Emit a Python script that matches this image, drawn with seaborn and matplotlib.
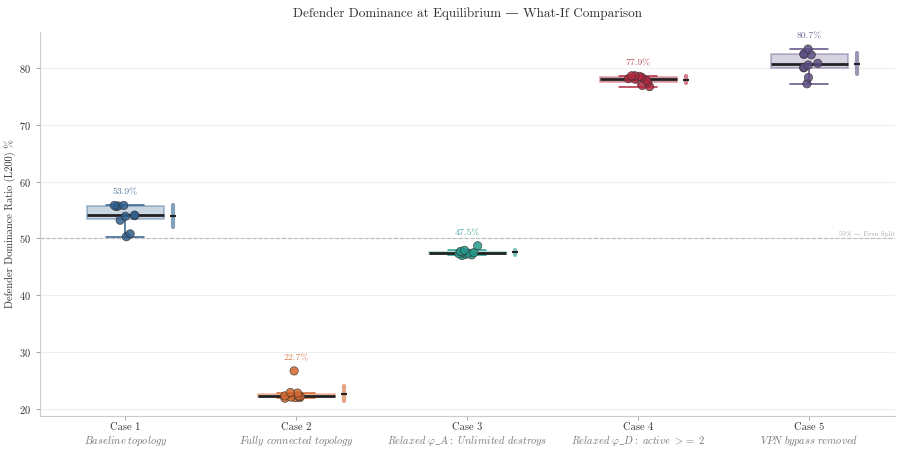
import numpy as np
import pandas as pd
import matplotlib
matplotlib.use("Agg")
import matplotlib.pyplot as plt
import seaborn as sns
from matplotlib.colors import to_rgba

sns.set_style("ticks")
plt.rcParams["font.family"] = ["cmr10", "DejaVu Serif"]
plt.rcParams["mathtext.fontset"] = "cm"
plt.rcParams["axes.formatter.use_mathtext"] = True

# Case labels and scenario descriptions
cases = ["Case 1", "Case 2", "Case 3", "Case 4", "Case 5"]
subtitles = ["Baseline topology", "Fully connected topology",
             "Relaxed φ_A: Unlimited destroys", "Relaxed φ_D: active >= 2",
             "VPN bypass removed"]
colors = ["#2f5f8f", "#d4672f", "#249a8c", "#b2283f", "#5d4d84"]

# Defender dominance ratio (L200, %) per run
case1 = [50.3, 50.8, 53.2, 53.9, 54.0, 54.1, 55.6, 55.7, 55.8, 55.8]
case2 = [21.9, 22.0, 22.0, 22.1, 22.2, 22.3, 22.3, 22.8, 22.9, 26.7]
case3 = [47.0, 47.1, 47.2, 47.3, 47.4, 47.5, 47.6, 47.7, 47.9, 48.7]
case4 = [76.7, 76.9, 77.5, 77.8, 78.0, 78.1, 78.3, 78.5, 78.6, 78.6]
case5 = [77.2, 78.3, 80.0, 80.1, 80.5, 80.8, 82.3, 82.4, 82.4, 83.3]
values = [case1, case2, case3, case4, case5]

df = pd.DataFrame({
    "case": np.repeat(cases, [len(v) for v in values]),
    "value": np.concatenate(values),
})


def as_italic(s):
    s = s.replace("_", r"\_").replace("φ", r"\varphi{}").replace(" ", r"\ ")
    s = s.replace(">=", "{>}{=}")
    return r"$\mathit{" + s + "}$"


np.random.seed(3)
fig, ax = plt.subplots(figsize=(9.01, 4.51), dpi=100)
fig.subplots_adjust(left=0.044, right=0.993, top=0.929, bottom=0.078)

ax.axhline(50, color="#bbbbbb", ls="--", lw=0.8, zorder=1)
ax.text(4.5, 50.3, "50% — Even Split", ha="right", va="bottom",
        fontsize=5, color="#aaaaaa")

for i, (case, color) in enumerate(zip(cases, colors)):
    sub = df[df["case"] == case]
    sns.boxplot(data=sub, x="case", y="value", order=cases, width=0.45,
                showfliers=False, color=color, linecolor=color, linewidth=1.1,
                boxprops=dict(facecolor=to_rgba(color, 0.25),
                              edgecolor=to_rgba(color, 0.45)),
                medianprops=dict(color="#222222", linewidth=2),
                ax=ax)

sns.stripplot(data=df, x="case", y="value", order=cases, hue="case",
              hue_order=cases, palette=colors, jitter=0.07, size=6,
              linewidth=0.5, edgecolor="#333333", alpha=0.85, legend=False,
              zorder=3, ax=ax)

for i, (case, color) in enumerate(zip(cases, colors)):
    v = np.array(values[i])
    m, s = v.mean(), v.std()
    eb = ax.errorbar(i + 0.28, m, yerr=s, fmt="_", color="#222222",
                     markersize=5, mew=1.5, ecolor=to_rgba(color, 0.6),
                     elinewidth=3, capsize=0, zorder=4)
    eb[2][0].set_capstyle("round")
    ax.text(i, v.max() + 2.3, f"{m:.1f}%", ha="center", va="center",
            fontsize=7, color=to_rgba(color, 0.85))
    ax.annotate(as_italic(subtitles[i]), xy=(i, 0),
                xycoords=("data", "axes fraction"), xytext=(0, -18),
                textcoords="offset points", ha="center", va="center",
                fontsize=7.5, color="#777777")

ax.set_xlim(-0.5, 4.5)
ax.set_ylim(18.8, 86.3)
ax.set_yticks([20, 30, 40, 50, 60, 70, 80])
ax.yaxis.grid(True, color="#eeeeee", lw=0.8)
ax.set_axisbelow(True)
ax.set_xlabel("")
ax.set_ylabel("Defender Dominance Ratio (L200) %", fontsize=7.5,
              color="#333333", labelpad=2)
ax.set_title("Defender Dominance at Equilibrium — What-If Comparison",
             fontsize=9.5, color="#333333", pad=11)
ax.tick_params(axis="both", labelsize=7.5, length=3, width=0.6,
               color="#999999", labelcolor="#333333")
ax.tick_params(axis="x", pad=2)
sns.despine(ax=ax)
for side in ["left", "bottom"]:
    ax.spines[side].set_color("#cccccc")
    ax.spines[side].set_linewidth(0.8)

fig.savefig("out.png", dpi=100)
